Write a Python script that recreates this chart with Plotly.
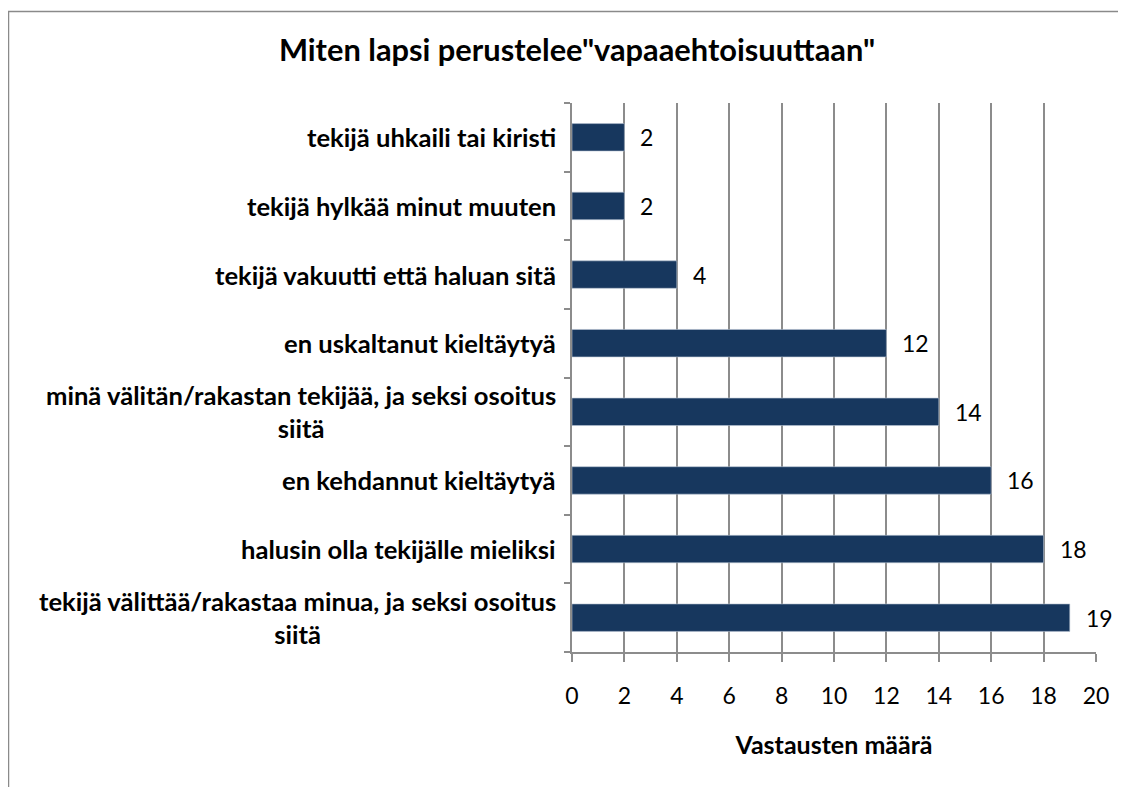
import plotly.graph_objects as go

categories = [
    "tekijä välittää/rakastaa minua, ja seksi osoitus<br>siitä",
    "halusin olla tekijälle mieliksi",
    "en kehdannut kieltäytyä",
    "minä välitän/rakastan tekijää, ja seksi osoitus<br>siitä",
    "en uskaltanut kieltäytyä",
    "tekijä vakuutti että haluan sitä",
    "tekijä hylkää minut muuten",
    "tekijä uhkaili tai kiristi",
]
values = [19, 18, 16, 14, 12, 4, 2, 2]
x_ticks = list(range(0, 21, 2))

title = 'Miten lapsi perustelee"vapaaehtoisuuttaan"'
x_title = "Vastausten määrä"

W, H = 1126, 787
L, R, T, B = 564, 38, 95, 143

fig = go.Figure()
fig.add_trace(go.Bar(
    x=values, y=categories, orientation="h",
    marker=dict(color="#17375E", line=dict(color="#b8c4d4", width=0.6)),
    width=0.4, showlegend=False, hoverinfo="skip",
))

annotations = []
for c, v in zip(categories, values):
    annotations.append(dict(x=v, y=c, xref="x", yref="y", text=str(v),
                            showarrow=False, xanchor="left", xshift=14,
                            font=dict(family="Lato", size=23, color="#000")))
    annotations.append(dict(x=0, y=c, xref="paper", yref="y", text=c,
                            showarrow=False, xanchor="right", xshift=-14,
                            align="center",
                            font=dict(family="Lato", size=25.6, color="#000", weight="bold")))

pw = W - L - R
ph = H - T - B
shapes = [
    dict(type="line", xref="paper", yref="paper",
         x0=(0 - L) / pw, x1=(W + 5 - L) / pw,
         y0=(H - B - 3.5) / ph, y1=(H - B - 3.5) / ph,
         line=dict(color="#8a8a8a", width=1.5)),
    dict(type="line", xref="paper", yref="paper",
         x0=(0.5 - L) / pw, x1=(0.5 - L) / pw,
         y0=(H - B - 3.5) / ph, y1=(-B - 5) / ph,
         line=dict(color="#8a8a8a", width=1.5)),
]

fig.update_layout(
    width=W, height=H,
    margin=dict(l=L, r=R, t=T, b=B),
    paper_bgcolor="white", plot_bgcolor="white",
    title=dict(text=title, x=569 / W, xanchor="center", y=1 - 42 / H, yanchor="middle",
               font=dict(family="Lato", size=30.8, color="#000", weight="bold")),
    xaxis=dict(range=[0, 20], tickvals=x_ticks, showgrid=True, gridcolor="#8c8c8c", gridwidth=1.6,
               zeroline=False, showline=True, linecolor="#8c8c8c", linewidth=1.6,
               ticks="outside", ticklen=8, tickcolor="#8c8c8c", tickwidth=1.6,
               ticklabelstandoff=15,
               tickfont=dict(family="Lato", size=23, color="#000"),
               title=dict(text=x_title, standoff=28,
                          font=dict(family="Lato", size=25, color="#000", weight="bold"))),
    yaxis=dict(type="category", categoryorder="array", categoryarray=categories,
               showticklabels=False, tickson="boundaries", ticks="outside", ticklen=6,
               tickcolor="#8c8c8c", tickwidth=1.6, showline=True, linecolor="#8c8c8c",
               linewidth=1.6, showgrid=False, zeroline=False),
    annotations=annotations, shapes=shapes,
)

fig.write_html("out.html")
